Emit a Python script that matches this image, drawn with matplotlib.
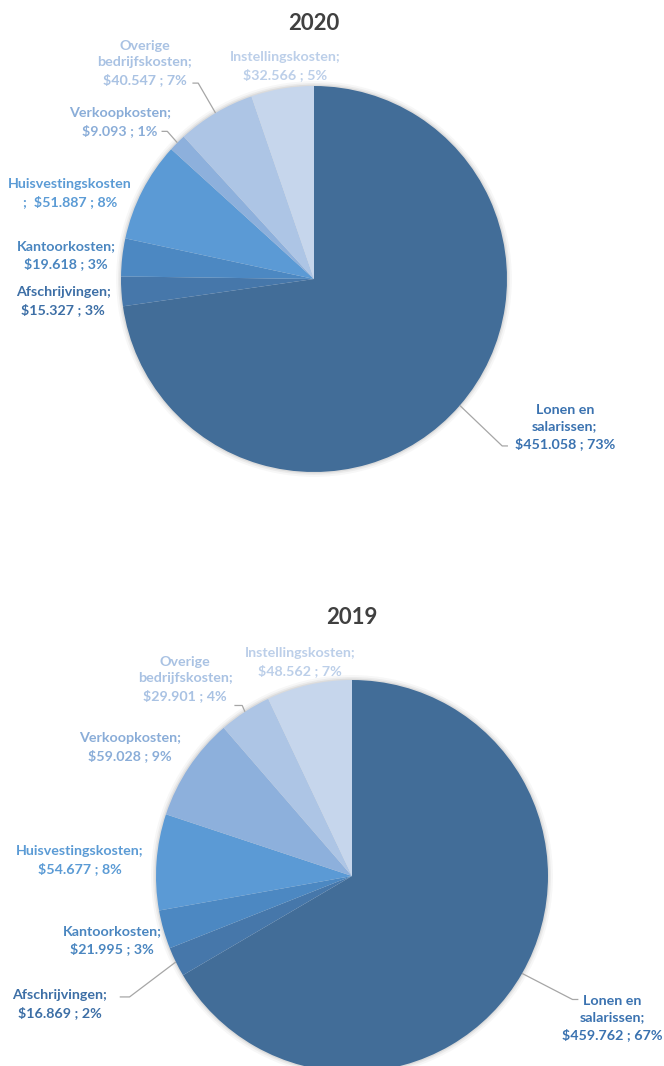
import math
import matplotlib
matplotlib.use("Agg")
import matplotlib.pyplot as plt
from matplotlib.patches import Circle

# ---------------- data ----------------
categories = ["Lonen en salarissen", "Afschrijvingen", "Kantoorkosten",
              "Huisvestingskosten", "Verkoopkosten", "Overige bedrijfskosten",
              "Instellingskosten"]
values_2020 = [451058, 15327, 19618, 51887, 9093, 40547, 32566]
pct_2020 = ["73%", "3%", "3%", "8%", "1%", "7%", "5%"]
values_2019 = [459762, 16869, 21995, 54677, 59028, 29901, 48562]
pct_2019 = ["67%", "2%", "3%", "8%", "9%", "4%", "7%"]

# label name text as shown (line breaks per chart)
names_2020 = ["Lonen en\nsalarissen;", "Afschrijvingen;", "Kantoorkosten;",
              "Huisvestingskosten\n; ", "Verkoopkosten;", "Overige\nbedrijfskosten;",
              "Instellingskosten;"]
names_2019 = ["Lonen en\nsalarissen;", "Afschrijvingen;", "Kantoorkosten;",
              "Huisvestingskosten;", "Verkoopkosten;", "Overige\nbedrijfskosten;",
              "Instellingskosten;"]

# ---------------- styles ----------------
wedge_colors = ["#426D98", "#4677AA", "#4C88C2", "#5B9AD5", "#8DB0DC", "#ADC5E5", "#C6D6EC"]
label_colors = ["#3A72B0", "#3D6FA6", "#4A86C0", "#5B9BD5", "#8AADD8", "#A9C2E3", "#BCCFE9"]

plt.rcParams['font.family'] = ['Lato', 'DejaVu Sans']

W, H = 664, 1066
fig = plt.figure(figsize=(W / 100, H / 100), dpi=100)


def fmt_money(v):
    return "$" + f"{v:,}".replace(",", ".")


def make_label(name, v, p):
    if name.endswith("; "):
        return name + " " + fmt_money(v) + " ; " + p
    return name + "\n" + fmt_money(v) + " ; " + p


# label positions in units of pie radius, relative to centre
pos_2020 = [(1.30, -0.767), (-1.30, -0.114), (-1.285, 0.124), (-1.264, 0.446),
            (-1.005, 0.813), (-0.876, 1.119), (-0.150, 1.104)]
pos_2019 = [(1.327, -0.724), (-1.49, -0.653), (-1.224, -0.327), (-1.388, 0.082),
            (-1.133, 0.658), (-0.852, 1.005), (-0.265, 1.092)]

# leader lines: label-side point and elbow point per label index
leaders_2020 = {0: ((1.005, -0.865), (0.975, -0.865)),
                4: ((-0.79, 0.765), (-0.76, 0.765)),
                5: ((-0.63, 1.015), (-0.60, 1.015))}
leaders_2019 = {0: ((1.155, -0.63), (1.125, -0.63)),
                1: ((-1.185, -0.617), (-1.135, -0.617)),
                5: ((-0.60, 0.87), (-0.56, 0.87))}


def draw_pie(rect_px, center_px, radius_px, title, values, pcts, names, positions, leaders, title_y_px):
    x0, y0, w, h = rect_px  # in pixels, y0 from top
    ax = fig.add_axes([x0 / W, 1 - (y0 + h) / H, w / W, h / H])
    cx, cy = center_px
    ax.pie(values, colors=wedge_colors, startangle=90, counterclock=False,
           radius=1.0, center=(0, 0), wedgeprops=dict(linewidth=0))
    # soft shadow
    for r, a in [(1.025, 0.08), (1.015, 0.12), (1.007, 0.18)]:
        ax.add_patch(Circle((0, 0.0), r, color="#9a9a9a", alpha=a, zorder=0, lw=0))
    ax.set_aspect('auto')
    ax.set_xlim((x0 - cx) / radius_px, (x0 + w - cx) / radius_px)
    ax.set_ylim((cy - (y0 + h)) / radius_px, (cy - y0) / radius_px)
    ax.axis('off')

    total = sum(values)
    cum = 0.0
    for i, (v, p, n) in enumerate(zip(values, pcts, names)):
        start = 90 - 360 * cum / total
        cum += v
        end = 90 - 360 * cum / total
        mid = math.radians((start + end) / 2)
        lx, ly = positions[i]
        ax.text(lx, ly, make_label(n, v, p), ha='center', va='center',
                fontsize=10.3, fontweight='bold', color=label_colors[i],
                linespacing=1.45)
        if i in leaders:
            (ax1, ay1), (ax2, ay2) = leaders[i]
            ex, ey = math.cos(mid), math.sin(mid)
            ax.plot([ax1, ax2, ex], [ay1, ay2, ey], color="#a6a6a6", lw=0.9,
                    solid_capstyle='butt', zorder=5)
    ax.text(0, (cy - title_y_px) / radius_px, title, ha='center', va='center',
            fontsize=16, fontweight='bold', color="#404040")
    return ax


draw_pie((0, 0, W, 533), (314, 279), 193, "2020", values_2020, pct_2020, names_2020,
         pos_2020, leaders_2020, 23)
draw_pie((0, 533, W, 533), (352, 876), 196, "2019", values_2019, pct_2019, names_2019,
         pos_2019, leaders_2019, 617)

fig.savefig("out.png", dpi=100, facecolor="white")
